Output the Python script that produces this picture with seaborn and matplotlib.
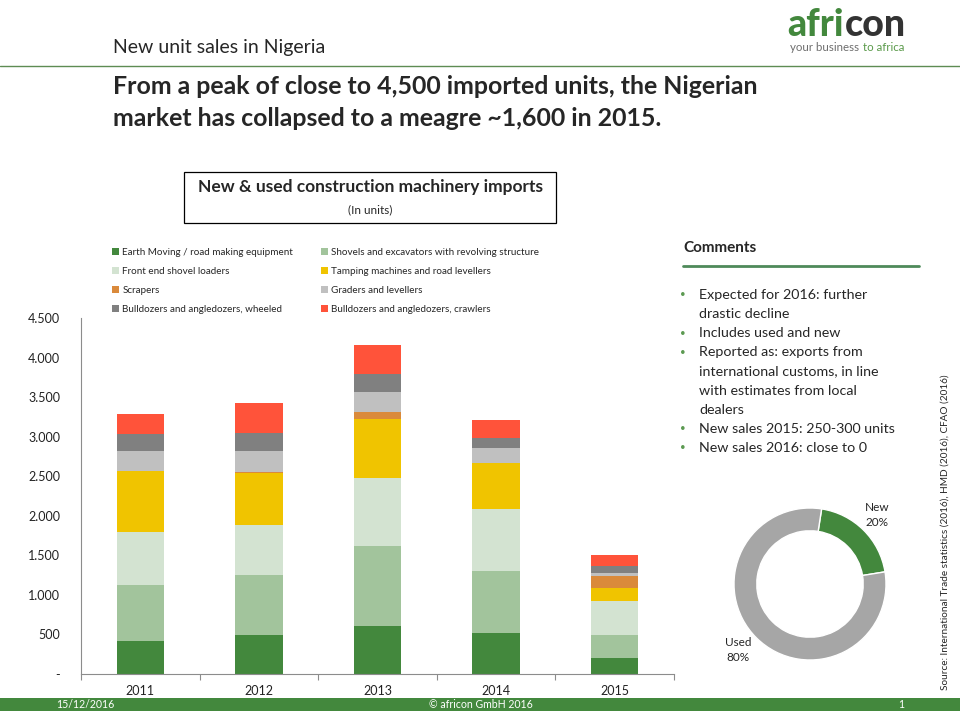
import matplotlib
matplotlib.use("Agg")
import numpy as np
import matplotlib.pyplot as plt
from matplotlib.patches import Rectangle, Patch
from matplotlib.lines import Line2D
from matplotlib.ticker import FuncFormatter
import seaborn as sns

# ---- data ----
years = ["2011", "2012", "2013", "2014", "2015"]
earth_moving = [420, 497, 610, 522, 206]
shovels = [704, 753, 1007, 783, 291]
front_end = [666, 632, 863, 779, 425]
tamping = [774, 661, 740, 577, 168]
scrapers = [3, 12, 89, 9, 151]
graders = [247, 258, 252, 188, 38]
dozers_wheeled = [215, 228, 236, 126, 89]
dozers_crawlers = [261, 379, 358, 224, 135]

series_names = [
    "Earth Moving / road making equipment",
    "Shovels and excavators with revolving structure",
    "Front end shovel loaders",
    "Tamping machines and road levellers",
    "Scrapers",
    "Graders and levellers",
    "Bulldozers and angledozers, wheeled",
    "Bulldozers and angledozers, crawlers",
]
series_values = [earth_moving, shovels, front_end, tamping, scrapers,
                 graders, dozers_wheeled, dozers_crawlers]
series_colors = ["#43883D", "#A2C49C", "#D3E3D1", "#F0C400",
                 "#DA8A3B", "#C0C0C0", "#808080", "#FF533A"]

share_labels = ["New", "Used"]
share_values = [20, 80]
share_colors = ["#43883D", "#A6A6A6"]

comments = [
    ["Expected for 2016: further", "drastic decline"],
    ["Includes used and new"],
    ["Reported as: exports from", "international customs, in line",
     "with estimates from local", "dealers"],
    ["New sales 2015: 250-300 units"],
    ["New sales 2016: close to 0"],
]

W, H = 960, 720
GREEN = "#43883D"


def fx(x):
    return x / W


def fy(y):
    return 1 - y / H


def rect(left, top, right, bottom):
    return [left / W, 1 - bottom / H, (right - left) / W, (bottom - top) / H]


sns.set_theme(style="white")
plt.rcParams["font.family"] = ["Lato", "DejaVu Sans"]

fig = plt.figure(figsize=(9.6, 7.2), dpi=100)

# ---- stacked bars ----
ax = fig.add_axes(rect(81, 318, 674, 674))
bottom = np.zeros(len(years))
for name, vals, col in zip(series_names, series_values, series_colors):
    sns.barplot(x=years, y=vals, bottom=bottom, color=col, saturation=1,
                width=0.4, errorbar=None, linewidth=0, ax=ax)
    bottom += np.array(vals)

ax.set_xlim(-0.5, len(years) - 0.5)
ax.set_ylim(0, 4500)
ax.set_yticks(np.arange(0, 4501, 500))
ax.yaxis.set_major_formatter(FuncFormatter(
    lambda v, p: "-" if v == 0 else f"{v:,.0f}".replace(",", ".")))
ax.set_xticks(np.arange(-0.5, len(years)), minor=True)
ax.set_xlabel("")
ax.set_ylabel("")
for s in ["top", "right"]:
    ax.spines[s].set_visible(False)
for s in ["left", "bottom"]:
    ax.spines[s].set_color("#8C8C8C")
    ax.spines[s].set_linewidth(0.8)
ax.tick_params(axis="y", length=0, pad=15, labelsize=9, colors="#222222")
ax.tick_params(axis="x", which="major", length=0, pad=8, labelsize=9,
               colors="#222222")
ax.tick_params(axis="x", which="minor", length=4, width=0.8, color="#8C8C8C",
               bottom=True, direction="out")
ax.grid(False)

# legend, row-wise order like the source
handles = [Patch(facecolor=c, edgecolor="none") for c in series_colors]
order = [0, 2, 4, 6, 1, 3, 5, 7]
fig.legend([handles[i] for i in order], [series_names[i] for i in order],
           ncol=2, loc="upper left", bbox_to_anchor=(fx(112), fy(248)),
           frameon=False, fontsize=7.1, handlelength=0.7, handleheight=0.7,
           handletextpad=0.35, labelspacing=1.02, columnspacing=2.8,
           borderaxespad=0, borderpad=0)

# ---- chart title box ----
fig.add_artist(Rectangle((fx(184), fy(223)), (556 - 184) / W, 51 / H,
                         transform=fig.transFigure, fill=False,
                         edgecolor="black", linewidth=0.9))
fig.text(fx(370), fy(187), "New & used construction machinery imports",
         ha="center", va="center", fontsize=12.5, weight="bold")
fig.text(fx(370), fy(210), "(In units)", ha="center", va="center", fontsize=8.5)

# ---- header ----
fig.text(fx(113), fy(47), "New unit sales in Nigeria", fontsize=14, va="center")
fig.add_artist(Line2D([0, 1], [fy(66), fy(66)], transform=fig.transFigure,
                      color="#5E8C53", linewidth=1))
fig.text(fx(113), fy(87),
         "From a peak of close to 4,500 imported units, the Nigerian",
         fontsize=17.9, weight="bold", va="center")
fig.text(fx(113), fy(118),
         "market has collapsed to a meagre ~1,600 in 2015.",
         fontsize=17.9, weight="bold", va="center")

# ---- comments ----
fig.text(fx(683), fy(248), "Comments", fontsize=11, weight="bold", va="center")
fig.add_artist(Line2D([fx(683), fx(919)], [fy(265.5), fy(265.5)],
                      transform=fig.transFigure, color="#4E8A5A", linewidth=2))
y = 295
for item in comments:
    fig.text(fx(680), fy(y), "•", fontsize=7, color="#5C9A52", va="center")
    for line in item:
        fig.text(fx(699), fy(y), line, fontsize=10.3, va="center")
        y += 19.1

# ---- donut ----
ax2 = fig.add_axes(rect(734, 508, 886, 660))
ax2.pie(share_values, colors=share_colors, startangle=81.2, counterclock=False,
        wedgeprops=dict(width=0.3, edgecolor="white", linewidth=1))
ax2.set_xlim(-1, 1)
ax2.set_ylim(-1, 1)
ax2.set_aspect("equal")
ax2.axis("off")
fig.text(fx(877), fy(515), f"{share_labels[0]}\n{share_values[0]}%",
         ha="center", va="center", fontsize=8.5, linespacing=1.35)
fig.text(fx(738), fy(650), f"{share_labels[1]}\n{share_values[1]}%",
         ha="center", va="center", fontsize=8.5, linespacing=1.35)

# ---- source ----
fig.text(fx(945), fy(690),
         "Source: International Trade statistics (2016), HMD (2016), CFAO (2016)",
         rotation=90, ha="center", va="bottom", fontsize=7.2)

# ---- footer ----
fig.add_artist(Rectangle((0, fy(711)), 1, 13 / H, transform=fig.transFigure,
                         facecolor=GREEN, edgecolor="none"))
fig.text(fx(85), fy(704.5), "15/12/2016", color="white", fontsize=7.6,
         ha="center", va="center")
fig.text(fx(481), fy(704.5), "© africon GmbH 2016", color="white", fontsize=7.6,
         ha="center", va="center")
fig.text(fx(901), fy(704.5), "1", color="white", fontsize=7.6,
         ha="center", va="center")

# ---- logo ----
fig.canvas.draw()
renderer = fig.canvas.get_renderer()
inv = fig.transFigure.inverted()
t1 = fig.text(fx(787), fy(36), "afri", fontsize=27, weight="black",
              color=GREEN, va="baseline")
ext = t1.get_window_extent(renderer)
fig.text(inv.transform((ext.x1 + 1, 0))[0], fy(36), "con", fontsize=27,
         weight="black", color="#333333", va="baseline")
t3 = fig.text(fx(790), fy(51), "your business ", fontsize=8.3,
              color="#6E6E6E", va="baseline")
ext = t3.get_window_extent(renderer)
fig.text(inv.transform((ext.x1 + 1, 0))[0], fy(51), "to africa", fontsize=8.3,
         color="#5A9A4A", va="baseline")

fig.savefig("out.png", dpi=100)
